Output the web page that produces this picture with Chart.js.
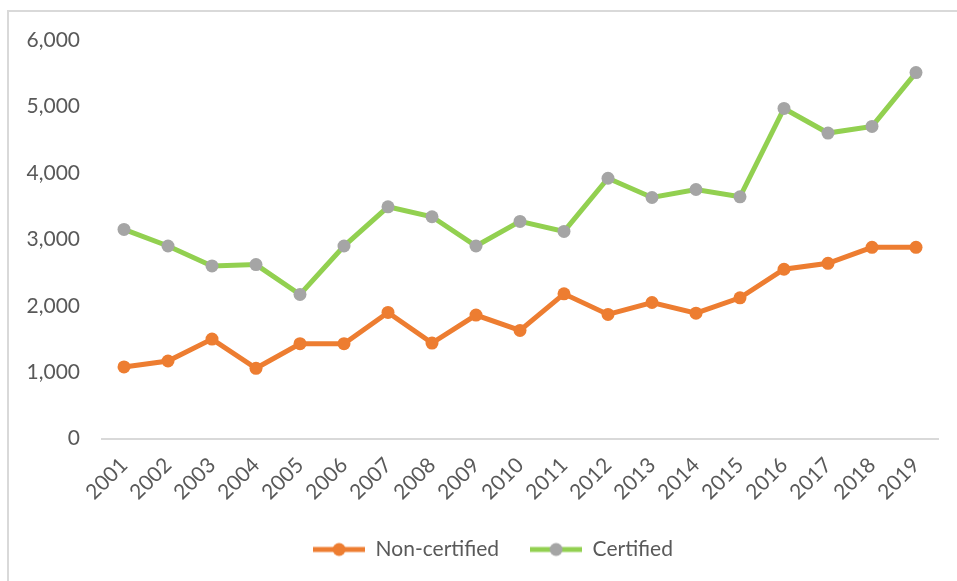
<!DOCTYPE html>
<html>
<head>
<meta charset="utf-8">
<script src="https://cdn.jsdelivr.net/npm/chart.js@4.4.1/dist/chart.umd.min.js"></script>
<style>
  body{margin:0;background:#fff;overflow:hidden;}
  #frame{position:absolute;left:7px;top:10px;width:1000px;height:700px;border:2px solid #d9d9d9;}
  #wrap{position:absolute;left:0;top:0;width:957px;height:581px;}
</style>
</head>
<body>
<div id="frame"></div>
<div id="wrap"><canvas id="myChart" width="957" height="581"></canvas></div>
<script>
// years on the x axis
var years = ['2001','2002','2003','2004','2005','2006','2007','2008','2009','2010',
             '2011','2012','2013','2014','2015','2016','2017','2018','2019'];
// values
var nonCertified = [1080,1170,1500,1060,1430,1430,1900,1440,1860,1630,
                    2180,1870,2050,1890,2120,2550,2640,2880,2880];
var certified = [3150,2900,2600,2620,2170,2900,3490,3340,2900,3270,
                 3120,3920,3630,3750,3640,4970,4600,4700,5510];
var yTicks = [0,1000,2000,3000,4000,5000,6000];

var textColor = '#595959';
var fontFamily = 'Lato, "Open Sans", sans-serif';

//little line + dot picture for the legend
function legendIcon(lineColor, dotColor){
  var c = document.createElement('canvas');
  c.width = 52; c.height = 16;
  var g = c.getContext('2d');
  g.strokeStyle = lineColor;
  g.lineWidth = 5;
  g.beginPath(); g.moveTo(0,8); g.lineTo(52,8); g.stroke();
  g.fillStyle = dotColor;
  g.beginPath(); g.arc(26,8,6.5,0,Math.PI*2); g.fill();
  return c;
}

//nudge the legend a bit to the right like in the picture
var legendShift = {
  id: 'legendShift',
  afterLayout: function(chart){
    var lg = chart.legend;
    lg.left += 24; lg.right += 24;
    lg.top -= 3; lg.bottom -= 3;
  }
};

var ctx = document.getElementById('myChart').getContext('2d');
var myChart = new Chart(ctx, {
  type: 'line',
  data: {
    labels: years,
    datasets: [{
      label: 'Non-certified',
      data: nonCertified,
      borderColor: '#ed7d31',
      backgroundColor: '#ed7d31',
      pointBackgroundColor: '#ed7d31',
      borderWidth: 5,
      pointRadius: 6.5,
      pointBorderWidth: 0,
      tension: 0
    },{
      label: 'Certified',
      data: certified,
      borderColor: '#92d050',
      backgroundColor: '#a5a5a5',
      pointBackgroundColor: '#a5a5a5',
      borderWidth: 5,
      pointRadius: 6.5,
      pointBorderWidth: 0,
      tension: 0
    }]
  },
  plugins: [legendShift],
  options: {
    responsive: false,
    animation: false,
    layout: { padding: { left: 0, right: 19, top: 40, bottom: 8 } },
    plugins: {
      tooltip: { enabled: false },
      legend: {
        position: 'bottom',
        labels: {
          color: textColor,
          font: { family: fontFamily, size: 21 },
          usePointStyle: true,
          pointStyleWidth: 52,
          padding: 31,
          generateLabels: function(chart){
            var icons = [legendIcon('#ed7d31','#ed7d31'), legendIcon('#92d050','#a5a5a5')];
            return chart.data.datasets.map(function(ds, i){
              return { text: ds.label, pointStyle: icons[i], datasetIndex: i,
                       fontColor: textColor, lineWidth: 0, hidden: false };
            });
          }
        }
      }
    },
    scales: {
      x: {
        offset: true,
        grid: { display: false },
        border: { display: true, color: '#d9d9d9', width: 2 },
        ticks: {
          color: textColor,
          font: { family: fontFamily, size: 21 },
          maxRotation: 45, minRotation: 45,
          padding: 6
        }
      },
      y: {
        min: 0, max: 6000,
        afterFit: function(scale){ scale.width = 102; },
        afterBuildTicks: function(scale){
          scale.ticks = yTicks.map(function(v){ return { value: v }; });
        },
        grid: { display: false, drawTicks: false },
        border: { display: false },
        ticks: {
          color: textColor,
          font: { family: fontFamily, size: 21 },
          padding: 22,
          callback: function(v){ return v.toLocaleString('en-US'); }
        }
      }
    }
  }
});
</script>
</body>
</html>
